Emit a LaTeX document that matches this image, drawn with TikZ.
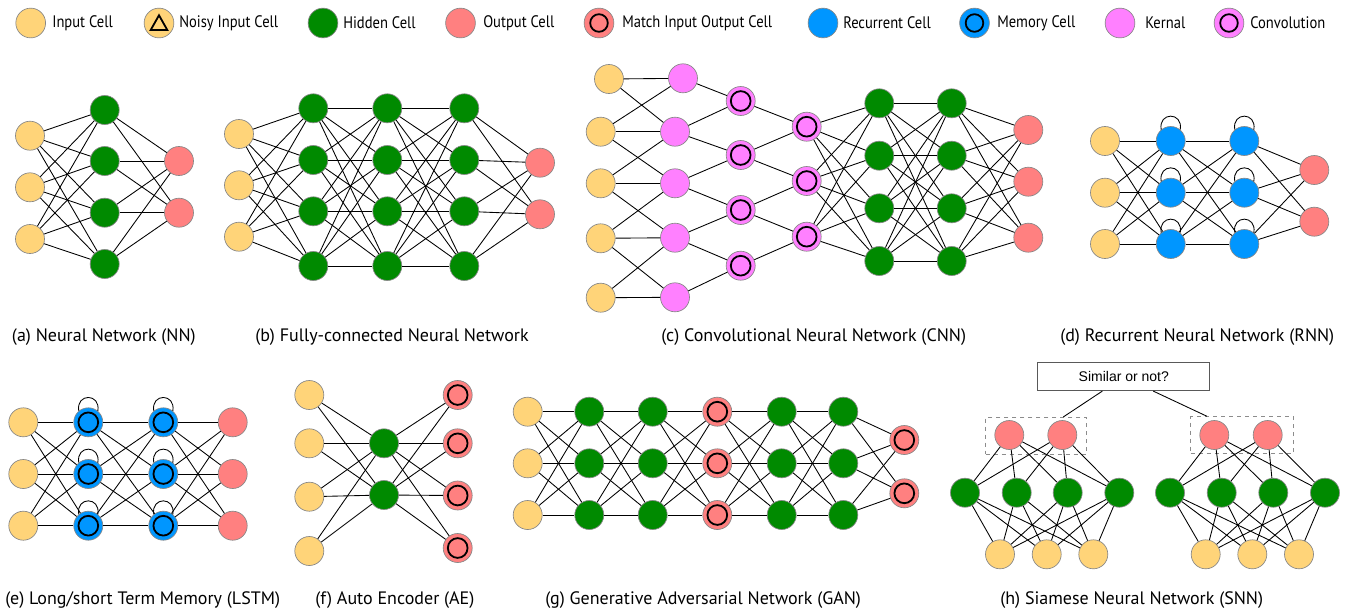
\documentclass[tikz,border=0pt]{standalone}
\usepackage{fontspec}
\setmainfont{PT Sans}
\newfontfamily\legfont[FakeStretch=0.875]{PT Sans}
\newfontfamily\qfont{Liberation Sans}
\usetikzlibrary{shapes.geometric}
\definecolor{cin}{RGB}{255,212,121}
\definecolor{chid}{RGB}{0,138,0}
\definecolor{cout}{RGB}{255,128,128}
\definecolor{crec}{RGB}{0,150,255}
\definecolor{cker}{RGB}{255,128,255}
\definecolor{cbord}{RGB}{135,135,135}
\tikzset{
  nncell/.style={circle, draw=cbord, line width=0.5pt, minimum size=21.75pt, inner sep=0pt},
  inp/.style={nncell, fill=cin},
  hid/.style={nncell, fill=chid},
  outc/.style={nncell, fill=cout},
  rec/.style={nncell, fill=crec},
  ker/.style={nncell, fill=cker},
  innerring/.style={path picture={\draw[draw=black, line width=1.35pt] (path picture bounding box.center) circle[radius=7.4pt];}},
  matchc/.style={outc, innerring},
  memc/.style={rec, innerring},
  convc/.style={ker, innerring},
  ln/.style={draw=black, line width=0.65pt},
  legc/.style={circle, draw=cbord, line width=0.5pt, minimum size=22.3pt, inner sep=0pt},
  lring/.style={path picture={\draw[draw=black, line width=1.35pt] (path picture bounding box.center) circle[radius=6.6pt];}},
  ltri/.style={path picture={\draw[draw=black, line width=1.35pt, line join=miter] ([yshift=5.8pt]path picture bounding box.center) -- ++(-6.2pt,-11pt) -- ++(12.4pt,0pt) -- cycle;}},
  labt/.style={anchor=west, inner sep=0pt, font=\legfont\fontsize{12.5}{14}\selectfont},
  capt/.style={anchor=west, inner sep=0pt, font=\fontsize{13.5}{16}\selectfont},
  qbox/.style={draw=black!65, line width=0.6pt, minimum width=129pt, minimum height=21.3pt, inner sep=0pt, font=\qfont\fontsize{10.5}{12}\selectfont},
  dbox/.style={draw=black!45, dashed, line width=0.6pt, inner sep=0pt},
}
\newcommand\rloop[1]{\draw[ln] (#1.130) .. controls +(-3,-18) and +(3,-18) .. (#1.50);}
\begin{document}
\begin{tikzpicture}[x=0.75pt,y=-0.75pt]
\useasboundingbox (0,0) rectangle (1347,612);
\fill[white] (0,0) rectangle (1347,612);

% ---------------- legend ----------------
\node[legc, fill=cin] (l1) at (30.7,23) {};
\node[labt] (t1) at (52,23) {Input Cell};
\node[legc, fill=cin, ltri] (l2) at (159,23) {};
\node[labt] (t2) at (179,23) {Noisy Input Cell};
\node[legc, fill=chid] (l3) at (323,23) {};
\node[labt] (t3) at (343,23) {Hidden Cell};
\node[legc, fill=cout] (l4) at (460.5,23) {};
\node[labt] (t4) at (483,23) {Output Cell};
\node[legc, fill=cout, lring] (l5) at (599,23) {};
\node[labt] (t5) at (622,23) {Match Input Output Cell};
\node[legc, fill=crec] (l6) at (823,23) {};
\node[labt] (t6) at (843,23) {Recurrent Cell};
\node[legc, fill=crec, lring] (l7) at (974.5,23) {};
\node[labt] (t7) at (997,23) {Memory Cell};
\node[legc, fill=cker] (l8) at (1120,23) {};
\node[labt] (t8) at (1145,23) {Kernal};
\node[legc, fill=cker, lring] (l9) at (1229,23) {};
\node[labt] (t9) at (1250,23) {Convolution};

% ---------------- (a) NN ----------------
\foreach \y [count=\k] in {135.7,187.3,239} \node[inp] (a-i\k) at (30,\y) {};
\foreach \y [count=\k] in {110,161,212.7,264} \node[hid] (a-h\k) at (104.7,\y) {};
\foreach \y [count=\k] in {161,212.7} \node[outc] (a-o\k) at (179,\y) {};
\foreach \i in {1,2,3} \foreach \j in {1,...,4} \draw[ln] (a-i\i) -- (a-h\j);
\foreach \i in {1,...,4} \foreach \j in {1,2} \draw[ln] (a-h\i) -- (a-o\j);

% ---------------- (b) FCNN ----------------
\foreach \y [count=\k] in {134,185.3,236.7} \node[inp] (b-i\k) at (239,\y) {};
\foreach \x [count=\L] in {313.3,387.3,464.3}
  \foreach \y [count=\k] in {108.3,160,211.3,266} \node[hid] (b-h\L-\k) at (\x,\y) {};
\foreach \y [count=\k] in {162.7,214.3} \node[outc] (b-o\k) at (540,\y) {};
\foreach \j in {1,...,4} {
  \foreach \i in {1,2,3} \draw[ln] (b-i\i) -- (b-h1-\j);
  \foreach \i in {1,...,4} {\draw[ln] (b-h1-\i) -- (b-h2-\j); \draw[ln] (b-h2-\i) -- (b-h3-\j);}
  \foreach \i in {1,2} \draw[ln] (b-h3-\j) -- (b-o\i);
}

% ---------------- (c) CNN ----------------
\foreach \x/\y [count=\k] in {609/79,600.7/131.7,600.7/183.3,600.7/238.3,600.7/297.7} \node[inp] (c-i\k) at (\x,\y) {};
\foreach \x/\y [count=\k] in {683/78.3,675/131.7,675/183.3,675/237.7,675/297.3} \node[ker] (c-k\k) at (\x,\y) {};
\foreach \y [count=\k] in {101,155,210,265.7} \node[convc] (c-c\k) at (740.7,\y) {};
\foreach \y [count=\k] in {126.7,181,236.7} \node[convc] (c-d\k) at (806.7,\y) {};
\foreach \y [count=\k] in {103.3,155.7,208.3,261} {\node[hid] (c-h\k) at (879.3,\y) {}; \node[hid] (c-g\k) at (951.7,\y) {};}
\foreach \y [count=\k] in {130,181.7,237.7} \node[outc] (c-o\k) at (1028.3,\y) {};
\foreach \i/\j in {1/1,1/2,2/1,2/2,2/3,3/2,3/3,3/4,4/3,4/4,4/5,5/4,5/5} \draw[ln] (c-i\i) -- (c-k\j);
\foreach \i/\j in {1/1,2/1,2/2,3/2,3/3,4/3,4/4,5/4} \draw[ln] (c-k\i) -- (c-c\j);
\foreach \i/\j in {1/1,2/1,2/2,3/2,3/3,4/3} \draw[ln] (c-c\i) -- (c-d\j);
\foreach \j in {1,...,4} {
  \foreach \i in {1,2,3} {\draw[ln] (c-d\i) -- (c-h\j); \draw[ln] (c-g\j) -- (c-o\i);}
  \foreach \i in {1,...,4} \draw[ln] (c-h\i) -- (c-g\j);
}

% ---------------- (d) RNN ----------------
\foreach \y [count=\k] in {141,192.7,244} {
  \node[inp] (d-i\k) at (1105,\y) {};
  \node[rec] (d-r\k) at (1170.7,\y) {};
  \node[rec] (d-s\k) at (1244.3,\y) {};
}
\foreach \y [count=\k] in {170,221.7} \node[outc] (d-o\k) at (1314.3,\y) {};
\foreach \i in {1,2,3} {
  \foreach \j in {1,2,3} {\draw[ln] (d-i\i) -- (d-r\j); \draw[ln] (d-r\i) -- (d-s\j);}
  \foreach \j in {1,2} \draw[ln] (d-s\i) -- (d-o\j);
  \rloop{d-r\i} \rloop{d-s\i}
}

% ---------------- (e) LSTM ----------------
\foreach \y [count=\k] in {422.3,474,525.7} {
  \node[inp] (e-i\k) at (23.3,\y) {};
  \node[memc] (e-m\k) at (88.3,\y) {};
  \node[memc] (e-n\k) at (163.3,\y) {};
  \node[outc] (e-o\k) at (232.7,\y) {};
}
\foreach \i in {1,2,3} {
  \foreach \j in {1,2,3} {\draw[ln] (e-i\i) -- (e-m\j); \draw[ln] (e-m\i) -- (e-n\j); \draw[ln] (e-n\i) -- (e-o\j);}
  \rloop{e-m\i} \rloop{e-n\i}
}

% ---------------- (f) AE ----------------
\foreach \y [count=\k] in {395,443.3,496.7,551} \node[inp] (f-i\k) at (309.3,\y) {};
\foreach \y [count=\k] in {443.3,495} \node[hid] (f-h\k) at (384,\y) {};
\foreach \y [count=\k] in {395,443.3,495.5,548} \node[matchc] (f-o\k) at (457.7,\y) {};
\foreach \i in {1,...,4} \foreach \j in {1,2} {\draw[ln] (f-i\i) -- (f-h\j); \draw[ln] (f-h\j) -- (f-o\i);}

% ---------------- (g) GAN ----------------
\foreach \y [count=\k] in {411.7,463.3,515} {
  \node[inp] (g-1-\k) at (527.7,\y) {};
  \node[hid] (g-2-\k) at (589.3,\y) {};
  \node[hid] (g-3-\k) at (652.7,\y) {};
  \node[matchc] (g-4-\k) at (717.3,\y) {};
  \node[hid] (g-5-\k) at (781.7,\y) {};
  \node[hid] (g-6-\k) at (843.3,\y) {};
}
\foreach \y [count=\k] in {440,493.3} \node[matchc] (g-7-\k) at (904.3,\y) {};
\foreach \L [evaluate=\L as \M using int(\L+1)] in {1,...,5}
  \foreach \i in {1,2,3} \foreach \j in {1,2,3} \draw[ln] (g-\L-\i) -- (g-\M-\j);
\foreach \i in {1,2,3} \foreach \j in {1,2} \draw[ln] (g-6-\i) -- (g-7-\j);

% ---------------- (h) SNN ----------------
\node[qbox] (h-q) at (1123.8,376.5) {Similar or not?};
\node[dbox, minimum width=75.8pt, minimum height=27.5pt] (h-dl) at (1036.2,435.7) {};
\node[dbox, minimum width=77pt, minimum height=27.5pt] (h-dr) at (1242,435) {};
\foreach \x [count=\k] in {1009.3,1062.3} \node[outc] (h-lo\k) at (\x,435) {};
\foreach \x [count=\k] in {1214.3,1267.7} \node[outc] (h-ro\k) at (\x,435) {};
\foreach \x [count=\k] in {965,1016.7,1067.7,1119.3} \node[hid] (h-lh\k) at (\x,492.7) {};
\foreach \x [count=\k] in {1170,1221.7,1273.3,1325} \node[hid] (h-rh\k) at (\x,492.7) {};
\foreach \x [count=\k] in {1000,1046.7,1093.3} \node[inp] (h-li\k) at (\x,554.3) {};
\foreach \x [count=\k] in {1205.7,1252.3,1299} \node[inp] (h-ri\k) at (\x,554.3) {};
\foreach \j in {1,...,4} {
  \foreach \i in {1,2} {\draw[ln] (h-lh\j) -- (h-lo\i); \draw[ln] (h-rh\j) -- (h-ro\i);}
  \foreach \i in {1,2,3} {\draw[ln] (h-li\i) -- (h-lh\j); \draw[ln] (h-ri\i) -- (h-rh\j);}
}
\draw[ln] ([xshift=-16.1pt]h-q.south) -- ([xshift=20.3pt]h-dl.north);
\draw[ln] ([xshift=22.1pt]h-q.south) -- ([xshift=-26.3pt]h-dr.north);

% ---------------- captions ----------------
\node[capt] (ca) at (11.7,337.5) {(a) Neural Network (NN)};
\node[capt] (cb) at (255,337.5) {(b) Fully-connected Neural Network};
\node[capt] (cc) at (661,337.5) {(c) Convolutional Neural Network (CNN)};
\node[capt] (cd) at (1060,337.5) {(d) Recurrent Neural Network (RNN)};
\node[capt] (ce) at (5,600) {(e) Long/short Term Memory (LSTM)};
\node[capt] (cf) at (315,600) {(f) Auto Encoder (AE)};
\node[capt] (cg) at (545,600) {(g) Generative Adversarial Network (GAN)};
\node[capt] (ch) at (1000,600) {(h) Siamese Neural Network (SNN)};
\end{tikzpicture}
\end{document}
